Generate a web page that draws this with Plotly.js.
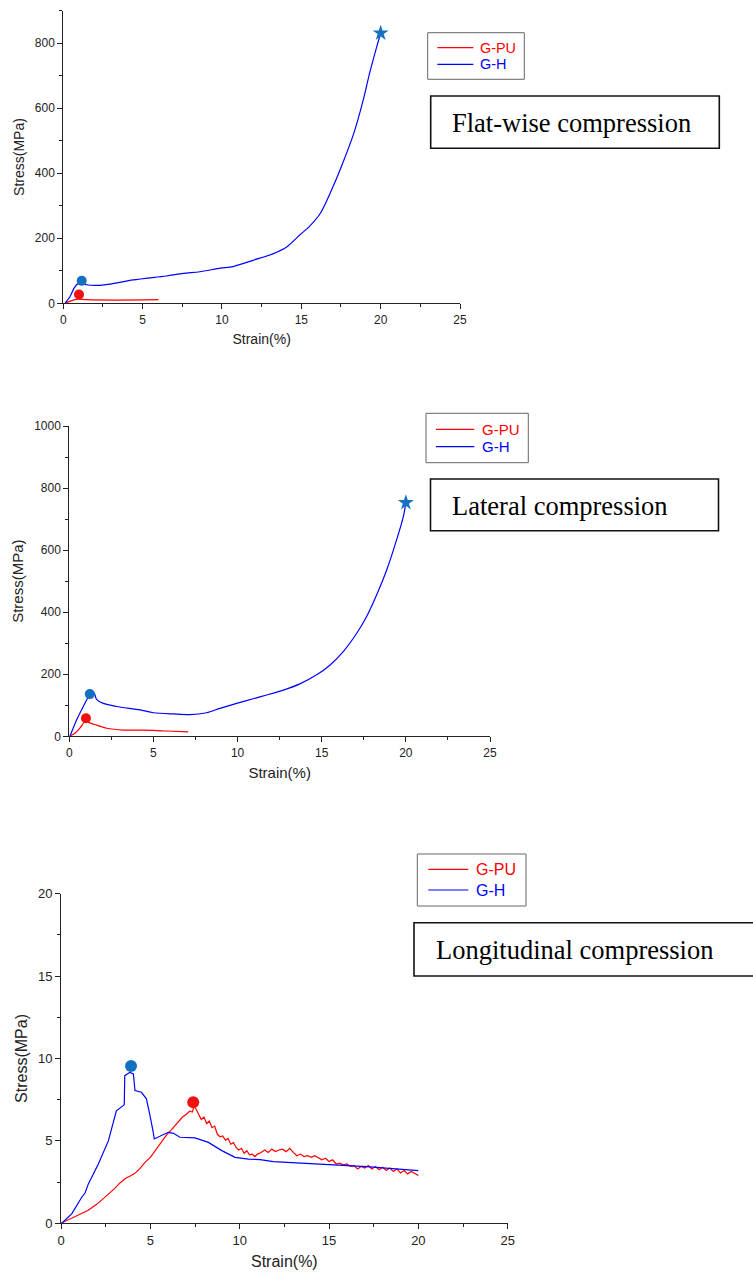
<!DOCTYPE html>
<html><head><meta charset="utf-8">
<script src="https://cdn.plot.ly/plotly-3.0.1.min.js"></script>
<style>html,body{margin:0;padding:0;background:#fff}#chart{width:753px;height:1278px}</style>
</head><body><div id="chart"></div>
<script>
// ---- Flat-wise compression ----
const flatGH_x = [0.1,0.42,0.67,0.88,1.16,1.47,2.1,2.94,4.41,6.5,7.56,8.6,9.9,10.7,12.0,13.2,14.1,14.9,15.5,16.2,17.0,17.6,18.3,18.9,19.3,19.75,20.0];
const flatGH_y = [0,20,46,59,61,57,55,59,72,84,92,97,108,113,133,152,174,210,236,277,359,430,522,625,707,789,830];
const flatPU_x = [0.1,0.63,0.95,1.47,3.36,6.0];
const flatPU_y = [0,10,13,11,10,11];
const flatDot_x = [1.16, 0.99];
const flatDot_y = [69, 27];
const flatStar_x = [20.0];
const flatStar_y = [831];

// ---- Lateral compression ----
const latGH_x = [0.04,0.44,0.83,1.13,1.33,1.47,1.62,2.02,2.81,4.2,5.0,6.18,7.17,8.16,8.95,9.94,10.93,11.73,12.72,13.7,14.7,15.5,16.28,17.08,17.67,18.26,18.86,19.45,19.85,20.0];
const latGH_y = [0,53,96,126,138,140,119,106,96,85,76,72,70,76,90,106,121,133,149,169,198,230,273,332,386,455,536,633,708,752];
const latPU_x = [0,0.34,0.63,0.83,0.99,1.13,1.62,2.22,3.2,4.2,5.0,5.78,7.07];
const latPU_y = [0,10,26,42,50,45,36,26,20,20,19,17,14];
const latDot_x = [1.22, 0.99];
const latDot_y = [136, 58];
const latStar_x = [20.0];
const latStar_y = [753];

// ---- Longitudinal compression ----
const lonGH_x = [0.04,0.6,1.16,1.35,1.53,2.09,2.65,3.1,3.48,3.54,3.57,3.85,4.05,4.14,4.5,4.78,4.95,5.07,5.15,5.22,5.63,6.0,6.29,6.66,7.5,8.25,9.0,9.74,10.49,11.14,11.88,13.38,15.24,17.1,18.97,20.0];
const lonGH_y = [0,0.57,1.58,1.85,2.39,3.6,5.0,6.83,7.14,7.2,8.96,9.16,9.06,8.05,7.95,7.55,6.7,6.13,5.6,5.12,5.32,5.52,5.46,5.22,5.18,4.91,4.41,4.0,3.9,3.86,3.74,3.64,3.54,3.44,3.3,3.2];
const lonPU_x = [0,0.5,1.0,1.25,1.5,2.0,2.5,3.0,3.3,3.6,3.9,4.1,4.4,4.7,5.0,5.3,5.6,5.9,6.2,6.5,6.8,7.0,7.2,7.35,7.45,7.55,7.7,7.85,8.0,8.15,8.3,8.45,8.6,8.75,8.9,9.05,9.2,9.35,9.5,9.65,9.8,9.95,10.1,10.25,10.4,10.55,10.7,10.85,11.0,11.2,11.4,11.6,11.8,12.0,12.2,12.4,12.6,12.8,13.0,13.2,13.4,13.6,13.8,14.0,14.2,14.4,14.6,14.8,15.0,15.2,15.4,15.6,15.8,16.0,16.2,16.4,16.6,16.8,17.0,17.2,17.4,17.6,17.8,18.0,18.2,18.4,18.6,18.8,19.0,19.2,19.4,19.6,19.8,20.0];
const lonPU_y = [0,0.25,0.5,0.62,0.78,1.15,1.6,2.1,2.45,2.72,2.88,3.0,3.3,3.7,4.0,4.45,4.95,5.35,5.7,6.1,6.45,6.6,6.8,6.75,7.1,6.95,6.6,6.3,6.45,6.05,6.2,5.8,5.9,5.4,5.25,5.3,5.05,5.15,4.8,4.9,4.6,4.45,4.55,4.25,4.4,4.15,4.2,4.05,4.2,4.3,4.45,4.3,4.5,4.35,4.45,4.5,4.35,4.55,4.3,4.1,4.2,4.05,4.1,4.0,4.1,3.95,3.85,3.95,3.75,3.85,3.6,3.65,3.55,3.6,3.45,3.5,3.3,3.45,3.35,3.5,3.3,3.45,3.25,3.4,3.2,3.35,3.15,3.3,3.05,3.2,3.0,3.15,3.05,2.9];
const lonDot_x = [3.92, 7.4];
const lonDot_y = [9.55, 7.35];

const seriesNames = ['G-PU', 'G-H'];
const titles = ['Flat-wise compression', 'Lateral compression', 'Longitudinal compression'];
const xTitle = 'Strain(%)';
const yTitle = 'Stress(MPa)';

const RED = '#ff0000', BLUE = '#0000ff', DOTBLUE = '#1470c0', DOTRED = '#ee1111';
const seriesColors = [RED, BLUE];
const W = 753, H = 1278;
const px = v => v / W;
const py = v => (H - v) / H;

function lineTrace(x, y, color, name, xa, ya, shape) {
  return {x, y, type:'scatter', mode:'lines', line:{color, width:1.2, shape:shape||'linear', smoothing:0.8},
    name, xaxis:xa, yaxis:ya, showlegend:false, hoverinfo:'skip'};
}
function markTrace(x, y, colors, symbol, size, xa, ya) {
  return {x, y, type:'scatter', mode:'markers', marker:{color:colors, symbol, size, line:{width:0}},
    xaxis:xa, yaxis:ya, showlegend:false, hoverinfo:'skip'};
}

const data = [
  lineTrace(flatPU_x, flatPU_y, RED, seriesNames[0], 'x', 'y', 'spline'),
  lineTrace(flatGH_x, flatGH_y, BLUE, seriesNames[1], 'x', 'y', 'spline'),
  markTrace(flatDot_x, flatDot_y, [DOTBLUE, DOTRED], 'circle', 10, 'x', 'y'),
  markTrace(flatStar_x, flatStar_y, [DOTBLUE], 'star', 12, 'x', 'y'),

  lineTrace(latPU_x, latPU_y, RED, seriesNames[0], 'x2', 'y2', 'spline'),
  lineTrace(latGH_x, latGH_y, BLUE, seriesNames[1], 'x2', 'y2', 'spline'),
  markTrace(latDot_x, latDot_y, [DOTBLUE, DOTRED], 'circle', 10, 'x2', 'y2'),
  markTrace(latStar_x, latStar_y, [DOTBLUE], 'star', 12, 'x2', 'y2'),

  lineTrace(lonPU_x, lonPU_y, RED, seriesNames[0], 'x3', 'y3'),
  lineTrace(lonGH_x, lonGH_y, BLUE, seriesNames[1], 'x3', 'y3'),
  markTrace(lonDot_x, lonDot_y, [DOTBLUE, DOTRED], 'circle', 12, 'x3', 'y3'),
];

const SANS = 'Liberation Sans, Arial, sans-serif';
const SERIF = 'Liberation Serif, Times New Roman, serif';

function xaxis(dom, anchor, tf, tt) {
  return {domain:dom, anchor, range:[0,25], dtick:5, tick0:0, showline:true, linecolor:'#222', linewidth:1,
    ticks:'outside', ticklen:5, tickcolor:'#222', showgrid:false, zeroline:false,
    minor:{dtick:2.5, ticks:'outside', ticklen:3, tickcolor:'#222', showgrid:false},
    tickfont:{family:SANS, size:tf, color:'#222'}, title:{text:xTitle, font:{family:SANS, size:tt, color:'#222'}, standoff:8}};
}
function yaxis(dom, anchor, rng, dt, mdt, tf, tt) {
  return {domain:dom, anchor, range:rng, dtick:dt, tick0:0, showline:true, linecolor:'#222', linewidth:1,
    ticks:'outside', ticklen:5, tickcolor:'#222', showgrid:false, zeroline:false,
    minor:{dtick:mdt, ticks:'outside', ticklen:3, tickcolor:'#222', showgrid:false},
    tickfont:{family:SANS, size:tf, color:'#222'}, title:{text:yTitle, font:{family:SANS, size:tt, color:'#222'}, standoff:6}};
}

const shapes = [];
const annotations = [];
function box(x0, x1, y0, y1, color, w) {
  shapes.push({type:'rect', xref:'paper', yref:'paper', x0:px(x0), x1:px(x1), y0:py(y1), y1:py(y0),
    line:{color, width:w}, fillcolor:'rgba(0,0,0,0)'});
}
// legend: box, sample lines and coloured labels
function legendBlock(bx0, bx1, by0, by1, lx0, lx1, tx, ys, fs) {
  box(bx0, bx1, by0, by1, '#666', 1);
  seriesNames.forEach((n, i) => {
    shapes.push({type:'line', xref:'paper', yref:'paper', x0:px(lx0), x1:px(lx1), y0:py(ys[i]), y1:py(ys[i]),
      line:{color:seriesColors[i], width:1.2}});
    annotations.push({text:n, xref:'paper', yref:'paper', x:px(tx), y:py(ys[i]), xanchor:'left', yanchor:'middle',
      showarrow:false, font:{family:SANS, size:fs, color:seriesColors[i]}});
  });
}
function titleBlock(text, bx0, bx1, by0, by1, tx, ty) {
  box(bx0, bx1, by0, by1, '#111', 1.6);
  annotations.push({text, xref:'paper', yref:'paper', x:px(tx), y:py(ty), xanchor:'left', yanchor:'middle', showarrow:false,
    font:{family:SERIF, size:26.5, color:'#000'}});
}

legendBlock(427.7, 524.3, 32.7, 79.3, 437.3, 473.3, 477.5, [47.7, 64.3], 14.4);
legendBlock(426, 528.3, 413.3, 462.7, 436, 474.3, 479.5, [429.3, 446.7], 15);
legendBlock(417.3, 526, 854, 906, 428.3, 468.3, 473.5, [869.3, 890], 16);
titleBlock(titles[0], 430.7, 719.3, 96, 148.3, 450, 122.5);
titleBlock(titles[1], 430.5, 718.5, 479, 530.7, 450, 506);
titleBlock(titles[2], 414, 780, 922.7, 976, 434, 949.5);

const layout = {
  width:W, height:H, margin:{l:0, r:0, t:0, b:0}, paper_bgcolor:'#fff', plot_bgcolor:'#fff', showlegend:false,
  xaxis: xaxis([px(63.3), px(460)], 'y', 12, 14),
  yaxis: yaxis([py(303.3), py(10.7)], 'x', [0,900], 200, 100, 12, 14),
  xaxis2: xaxis([px(69.3), px(490)], 'y2', 12, 15),
  yaxis2: yaxis([py(736.3), py(426)], 'x2', [0,1000], 200, 100, 12, 15),
  xaxis3: xaxis([px(61), px(507.7)], 'y3', 13, 16),
  yaxis3: yaxis([py(1223.3), py(893.7)], 'x3', [0,20], 5, 2.5, 13, 16),
  shapes, annotations,
};

Plotly.newPlot('chart', data, layout, {staticPlot:true, displayModeBar:false});
</script></body></html>
